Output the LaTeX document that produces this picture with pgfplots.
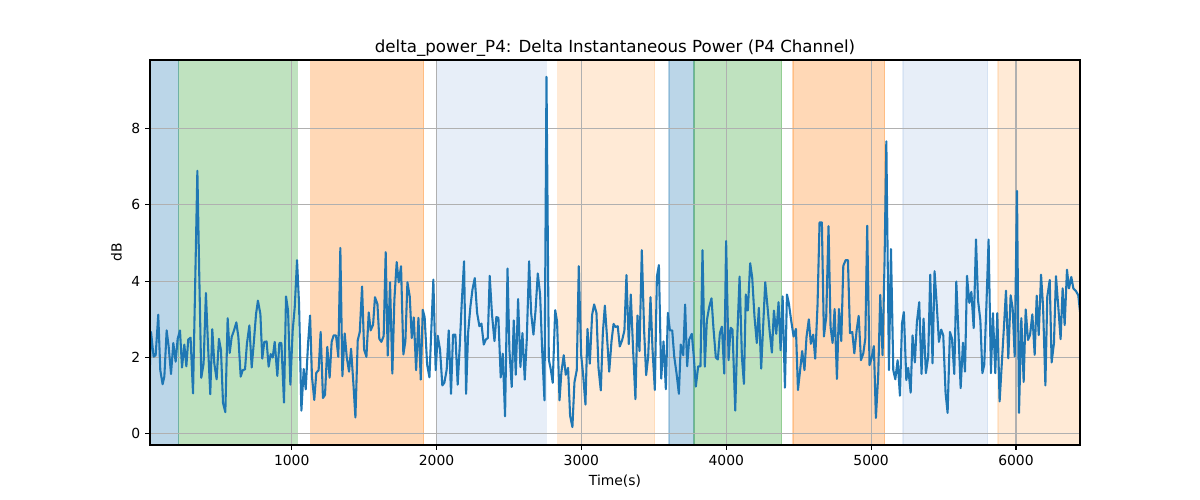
\documentclass[border=0pt]{standalone}
\usepackage{pgfplots}
\pgfplotsset{compat=1.18}
\usepackage{pgfplotstable}
\usepackage{fontspec}
\setmainfont{DejaVu Sans}
\definecolor{c0}{HTML}{1F77B4}
\definecolor{c1}{HTML}{FF7F0E}
\definecolor{c2}{HTML}{2CA02C}
\definecolor{lb}{HTML}{AEC7E8}
\definecolor{lo}{HTML}{FFBB78}
\definecolor{gridgray}{HTML}{B0B0B0}
\pgfplotstableread{
t v
14 0.90
29 2.67
47 2.02
61 2.06
79 3.12
93 1.67
109 1.30
121 1.50
137 2.71
151 2.28
167 1.57
183 2.38
199 1.89
213 2.49
229 2.71
243 1.74
259 2.34
273 1.77
286 2.47
302 2.52
319 1.06
334 3.95
349 6.89
362 4.18
376 1.47
392 1.84
408 3.69
422 2.36
438 1.04
452 2.74
466 1.84
482 1.43
498 2.49
512 2.19
526 0.81
542 0.57
558 3.03
572 2.12
586 2.54
602 2.71
618 2.92
632 2.54
648 1.50
662 1.67
678 1.69
691 2.36
708 2.84
724 1.74
738 2.36
754 3.14
767 3.49
784 3.14
797 1.97
811 2.41
827 2.42
841 1.76
855 2.09
869 2.00
883 2.41
901 1.52
915 2.38
929 2.38
947 0.82
961 3.60
975 3.23
991 1.29
1007 2.71
1021 3.31
1037 4.55
1051 3.40
1067 0.61
1083 1.70
1097 1.17
1113 2.36
1127 3.10
1140 1.50
1156 0.89
1170 1.60
1186 1.67
1200 2.67
1216 0.94
1230 1.02
1246 2.28
1262 1.47
1276 2.41
1290 2.58
1306 2.58
1322 2.02
1336 4.87
1350 1.51
1366 2.63
1380 2.02
1396 1.63
1410 2.23
1426 1.32
1440 0.43
1456 2.45
1470 2.67
1486 3.86
1500 2.21
1516 2.02
1532 3.18
1545 2.71
1562 2.86
1575 3.58
1592 3.40
1605 2.49
1619 2.41
1635 2.56
1649 4.76
1663 2.05
1679 3.97
1695 1.58
1709 3.52
1725 4.50
1739 3.97
1755 4.39
1771 2.08
1785 2.43
1799 3.97
1815 3.60
1829 2.51
1843 3.05
1859 1.67
1875 3.04
1891 1.42
1905 3.25
1918 3.05
1935 1.82
1951 1.48
1965 2.82
1978 4.04
1994 1.67
2008 2.57
2024 2.21
2040 1.27
2054 1.34
2070 1.68
2084 2.71
2100 1.05
2114 2.60
2130 2.60
2146 1.29
2160 2.29
2174 3.43
2190 4.52
2204 1.05
2218 2.65
2234 3.34
2248 3.78
2264 4.08
2280 3.17
2296 2.82
2310 2.89
2326 2.34
2340 2.47
2354 2.51
2367 4.14
2383 3.12
2400 2.43
2413 3.06
2427 3.04
2443 1.48
2457 2.10
2473 0.46
2490 4.33
2503 2.21
2519 1.23
2533 2.97
2547 1.55
2563 3.53
2579 1.75
2593 2.64
2609 1.42
2623 2.48
2639 4.52
2653 3.17
2669 2.60
2683 3.21
2699 4.20
2715 3.65
2729 2.21
2745 0.88
2759 9.35
2775 1.95
2789 1.68
2802 1.34
2819 3.24
2832 2.95
2849 0.88
2862 1.62
2878 2.06
2892 1.55
2908 1.73
2922 0.48
2938 0.18
2952 1.35
2968 1.67
2982 4.39
2998 2.08
3012 1.55
3028 0.77
3042 2.75
3058 1.84
3074 3.12
3088 3.39
3104 3.17
3118 1.73
3134 1.14
3148 2.64
3162 3.36
3178 2.47
3192 1.63
3208 2.43
3222 2.88
3235 2.80
3251 2.82
3265 2.29
3281 2.45
3297 2.71
3311 4.16
3327 2.35
3341 3.65
3357 2.19
3373 0.91
3387 3.10
3401 2.17
3417 4.81
3433 2.71
3447 1.54
3461 2.02
3477 3.58
3491 2.21
3507 1.15
3521 4.11
3535 4.42
3551 1.45
3567 2.42
3583 1.17
3597 3.17
3611 2.71
3627 2.71
3641 2.02
3657 1.58
3673 1.05
3686 2.34
3703 2.06
3716 3.39
3730 1.77
3744 2.47
3762 2.62
3776 2.02
3790 1.24
3806 1.77
3822 1.77
3836 4.81
3852 1.76
3866 2.97
3882 3.32
3898 3.55
3912 2.75
3928 2.00
3942 1.95
3956 2.64
3970 2.81
3986 1.58
3999 5.05
4016 1.93
4030 2.78
4043 2.73
4062 0.61
4076 2.54
4092 4.12
4108 2.02
4122 1.31
4135 3.65
4149 3.23
4165 4.47
4179 4.10
4195 3.06
4211 2.38
4225 3.30
4241 1.71
4255 2.84
4269 3.97
4285 3.32
4299 2.71
4315 2.13
4329 3.23
4345 2.62
4361 3.45
4375 2.19
4389 3.60
4405 1.21
4419 3.65
4432 3.42
4448 2.97
4465 2.55
4481 2.75
4495 1.15
4511 1.71
4524 2.17
4540 1.67
4554 2.54
4570 3.00
4584 2.36
4600 2.60
4614 1.97
4630 3.36
4644 5.54
4660 5.54
4674 2.55
4690 3.06
4706 5.44
4720 2.80
4734 2.38
4748 3.27
4764 1.44
4778 3.27
4794 2.43
4808 4.40
4824 4.55
4840 4.55
4854 2.64
4870 2.67
4884 2.11
4900 2.71
4914 3.09
4930 1.93
4946 2.11
4960 2.50
4973 5.45
4989 1.80
5003 1.98
5019 2.30
5033 0.42
5049 1.54
5063 3.64
5079 2.06
5093 4.56
5105 7.66
5123 1.67
5137 4.84
5153 1.67
5167 1.43
5183 1.93
5199 1.00
5213 2.89
5226 3.19
5243 1.41
5256 1.73
5273 1.08
5286 2.58
5302 1.87
5316 2.93
5332 3.45
5348 1.57
5362 3.02
5378 1.59
5394 2.02
5408 4.17
5424 1.85
5438 4.26
5454 3.32
5468 2.41
5484 2.73
5498 2.58
5514 1.07
5528 0.55
5544 2.67
5558 2.50
5574 1.57
5588 3.99
5604 2.54
5618 1.20
5634 2.39
5648 1.63
5662 4.14
5678 3.43
5692 3.72
5708 2.77
5724 5.09
5738 3.50
5754 2.98
5768 1.59
5781 1.81
5797 3.50
5811 5.09
5827 1.59
5841 3.16
5857 1.59
5871 3.16
5887 0.85
5901 1.77
5917 2.81
5931 3.75
5947 1.98
5963 3.63
5977 3.29
5991 2.03
6007 6.36
6021 0.55
6037 3.03
6053 1.36
6067 3.26
6083 2.46
6097 2.59
6113 3.13
6129 2.07
6143 3.62
6157 2.59
6173 4.17
6187 3.33
6203 1.27
6216 3.59
6233 4.03
6246 1.87
6262 2.37
6276 4.13
6292 3.33
6308 2.48
6322 3.81
6336 2.85
6352 4.30
6366 3.81
6382 4.11
6396 3.81
6414 3.74
6430 3.63
6442 3.20
}\datatable
\pgfplotsset{
  span/.style={fill=#1, fill opacity=0.3, draw=#1, draw opacity=0.3, line width=1bp},
  gridline/.style={color=gridgray, line width=0.8bp, forget plot},
}
\begin{document}
\begin{tikzpicture}
\begin{axis}[
  at={(0,0)}, anchor=south west,
  width=669.6bp, height=277.2bp, scale only axis,
  xmin=22, xmax=6442, ymin=-0.29, ymax=9.79,
  xtick={1000,2000,3000,4000,5000,6000},
  ytick={0,2,4,6,8},
  scaled x ticks=false,
  axis on top,
  axis line style={line width=0.8bp, black},
  tick align=outside, major tick length=3.5bp,
  tick style={line width=0.8bp, draw=black},
  tick pos=left,
  ticklabel style={font=\fontsize{10bp}{12bp}\selectfont},
  /pgf/number format/assume math mode=true,
  /pgf/number format/1000 sep={},
  title={delta\_power\_P4: Delta Instantaneous Power (P4 Channel)},
  title style={font=\fontsize{12bp}{14bp}\selectfont, yshift=-6.8bp},
  xlabel={Time(s)}, ylabel={dB},
  label style={font=\fontsize{10bp}{12bp}\selectfont},
]
\addplot[span=c0] coordinates {(14,-1) (14,11) (220,11) (220,-1)} -- cycle;
\addplot[span=c2] coordinates {(220,-1) (220,11) (1039,11) (1039,-1)} -- cycle;
\addplot[span=c1] coordinates {(1131,-1) (1131,11) (1910,11) (1910,-1)} -- cycle;
\addplot[span=lb] coordinates {(1999,-1) (1999,11) (2759,11) (2759,-1)} -- cycle;
\addplot[span=lo] coordinates {(2837,-1) (2837,11) (3505,11) (3505,-1)} -- cycle;
\addplot[span=c0] coordinates {(3604,-1) (3604,11) (3776,11) (3776,-1)} -- cycle;
\addplot[span=c2] coordinates {(3776,-1) (3776,11) (4382,11) (4382,-1)} -- cycle;
\addplot[span=c1] coordinates {(4460,-1) (4460,11) (5093,11) (5093,-1)} -- cycle;
\addplot[span=lb] coordinates {(5220,-1) (5220,11) (5805,11) (5805,-1)} -- cycle;
\addplot[span=lo] coordinates {(5876,-1) (5876,11) (6500,11) (6500,-1)} -- cycle;
\addplot[gridline] coordinates {(1000,-1) (1000,11)};
\addplot[gridline] coordinates {(2000,-1) (2000,11)};
\addplot[gridline] coordinates {(3000,-1) (3000,11)};
\addplot[gridline] coordinates {(4000,-1) (4000,11)};
\addplot[gridline] coordinates {(5000,-1) (5000,11)};
\addplot[gridline] coordinates {(6000,-1) (6000,11)};
\addplot[gridline] coordinates {(0,0) (6500,0)};
\addplot[gridline] coordinates {(0,2) (6500,2)};
\addplot[gridline] coordinates {(0,4) (6500,4)};
\addplot[gridline] coordinates {(0,6) (6500,6)};
\addplot[gridline] coordinates {(0,8) (6500,8)};
\addplot[c0, line width=1.5bp, mark=none, line join=round] table[x=t, y=v] {\datatable};
\end{axis}
\pgfresetboundingbox
\path[use as bounding box] (-108bp,-39.6bp) rectangle (756bp,320.4bp);
\end{tikzpicture}
\end{document}
